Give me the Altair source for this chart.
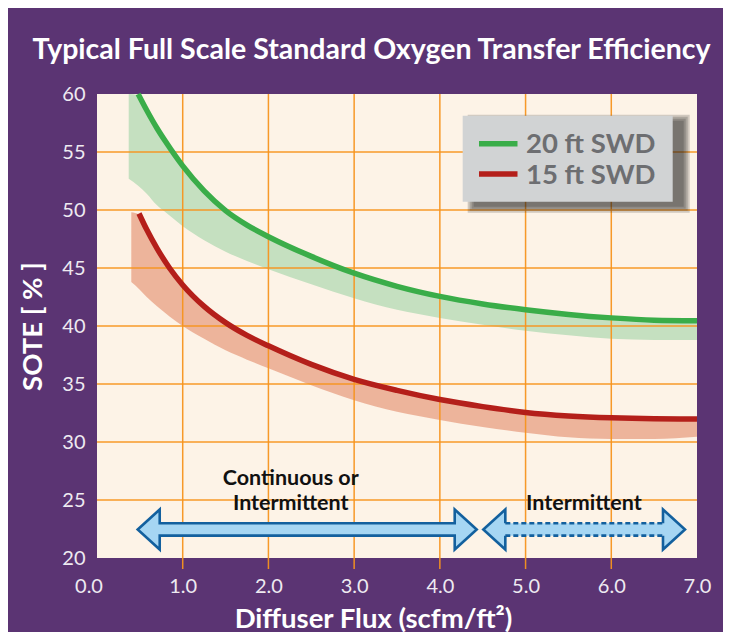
import altair as alt
import pandas as pd

# ---------------- data ----------------
TITLE = "Typical Full Scale Standard Oxygen Transfer Efficiency"
X_TITLE = "Diffuser Flux (scfm/ft²)"
Y_TITLE = "SOTE [ % ]"

series_names = ["20 ft SWD", "15 ft SWD"]
line_colors = ["#3aad49", "#b41f1a"]
band_colors = ["#c5e0c0", "#ecb097"]

x_ticks = [0, 1, 2, 3, 4, 5, 6, 7]
y_ticks = [20, 25, 30, 35, 40, 45, 50, 55, 60]

green_x = [0.48, 0.58, 0.70, 0.80, 1.00, 1.25, 1.50, 1.75, 2.00, 2.50, 3.00, 3.50, 4.00, 4.50, 5.00, 5.50, 6.00, 6.50, 7.00]
green_y = [60.0, 58.6, 57.05, 55.9, 53.8, 51.65, 49.95, 48.7, 47.7, 46.0, 44.55, 43.42, 42.55, 41.9, 41.4, 41.0, 40.7, 40.5, 40.45]

red_x = [0.49, 0.58, 0.70, 0.85, 1.00, 1.25, 1.50, 1.75, 2.00, 2.50, 3.00, 3.50, 4.00, 4.50, 5.00, 5.50, 6.00, 6.50, 7.00]
red_y = [49.7, 48.31, 46.69, 44.96, 43.54, 41.69, 40.29, 39.19, 38.29, 36.69, 35.4, 34.45, 33.66, 33.05, 32.55, 32.25, 32.08, 32.0, 31.98]

green_band_x = [0.37, 0.48, 0.58, 0.70, 0.80, 1.00, 1.25, 1.50, 1.75, 2.00, 2.50, 3.00, 3.50, 4.00, 4.50, 5.00, 5.50, 6.00, 6.50, 7.00]
green_band_hi = [60.0, 59.9, 58.45, 56.9, 55.75, 53.65, 51.5, 49.8, 48.55, 47.55, 45.85, 44.4, 43.27, 42.4, 41.75, 41.25, 40.85, 40.55, 40.35, 40.3]
green_band_lo = [52.7, 52.1, 51.4, 50.4, 49.8, 48.6, 47.4, 46.4, 45.6, 44.9, 43.6, 42.4, 41.4, 40.7, 40.1, 39.6, 39.2, 38.9, 38.8, 38.8]

red_band_x = [0.40, 0.49, 0.58, 0.70, 0.85, 1.00, 1.25, 1.50, 1.75, 2.00, 2.50, 3.00, 3.50, 4.00, 4.50, 5.00, 5.50, 6.00, 6.50, 7.00]
red_band_hi = [49.8, 49.6, 48.16, 46.54, 44.81, 43.39, 41.54, 40.14, 39.04, 38.14, 36.54, 35.25, 34.3, 33.51, 32.9, 32.4, 32.1, 31.93, 31.85, 31.83]
red_band_lo = [43.8, 43.2, 42.5, 41.7, 40.8, 40.0, 38.9, 37.9, 37.1, 36.35, 34.9, 33.6, 32.6, 31.9, 31.3, 30.8, 30.4, 30.25, 30.25, 30.45]

ann_text = ["Continuous or", "Intermittent", "Intermittent"]
ann_x = [2.26, 2.26, 5.68]
ann_y = [26.78, 24.63, 24.63]

arrow_start = [0.475, 4.507]
arrow_end = [4.430, 6.860]
arrow_level = 22.46

# ---------------- styling ----------------
PURPLE = "#5b3473"
PLOT_BG = "#fdf3e7"
ORANGE = "#f7941d"
LABEL_C = "#eeeaf1"
ARROW_FILL = "#a6d6f3"
ARROW_STROKE = "#13609e"
LEG_BG = "#d1d3d4"
LEG_TEXT = "#6d6e71"
FONT = "Lato"

W, H = 600, 464
PX = W / 7.0          # pixels per x unit
PY = H / 40.0         # pixels per y unit

xs = alt.Scale(domain=[0, 7], nice=False, zero=False)
ys = alt.Scale(domain=[20, 60], nice=False, zero=False)

x_axis = alt.Axis(values=x_ticks, format=".1f", grid=False, ticks=False, domain=False,
                  labelColor=LABEL_C, labelFont=FONT, labelFontSize=20, labelPadding=18,
                  labelFlush=False,
                  labelOffset={"condition": {"test": "datum.value === 0", "value": -8.5}, "value": 0},
                  title=X_TITLE, titleColor="white", titleFont=FONT, titleFontSize=27.5,
                  titleFontWeight="bold", titleX=276, titleY=69, titleAlign="center",
                  titleBaseline="alphabetic")
y_axis = alt.Axis(values=y_ticks, grid=False, ticks=False, domain=False,
                  labelColor=LABEL_C, labelFont=FONT, labelFontSize=20, labelPadding=12,
                  title=Y_TITLE, titleColor="white", titleFont=FONT, titleFontSize=27.5,
                  titleFontWeight="bold", titleX=-64, titleY=232, titleAlign="center",
                  titleBaseline="middle", titleAngle=270)


def X(field):
    return alt.X(field, scale=xs, axis=x_axis)


def Y(field):
    return alt.Y(field, scale=ys, axis=y_axis)


# bands
gband = pd.DataFrame({"x": green_band_x, "lo": green_band_lo, "hi": green_band_hi})
rband = pd.DataFrame({"x": red_band_x, "lo": red_band_lo, "hi": red_band_hi})

band_g = alt.Chart(gband).mark_area(interpolate="monotone", color=band_colors[0]).encode(
    x=X("x:Q"), y=Y("lo:Q"), y2="hi:Q")
band_r = alt.Chart(rband).mark_area(interpolate="monotone", color=band_colors[1], opacity=0.95).encode(
    x=X("x:Q"), y=Y("lo:Q"), y2="hi:Q")

# grid lines (vertical ones run below the plot as ticks)
vgrid = alt.Chart(pd.DataFrame({"x": x_ticks[1:-1]})).mark_rule(color=ORANGE, strokeWidth=1.5, opacity=0.95).encode(
    x=X("x:Q"), y=alt.value(0), y2=alt.value(H + 11))
hgrid = alt.Chart(pd.DataFrame({"y": y_ticks[1:-1]})).mark_rule(color=ORANGE, strokeWidth=1.5, opacity=0.95).encode(
    y=Y("y:Q"), x=alt.value(0), x2=alt.value(W))

# lines
gline = pd.DataFrame({"x": green_x, "y": green_y})
rline = pd.DataFrame({"x": red_x, "y": red_y})
line_g = alt.Chart(gline).mark_line(interpolate="monotone", color=line_colors[0], strokeWidth=5.5).encode(
    x=X("x:Q"), y=Y("y:Q"))
line_r = alt.Chart(rline).mark_line(interpolate="monotone", color=line_colors[1], strokeWidth=5.5).encode(
    x=X("x:Q"), y=Y("y:Q"))


# arrows (custom symbol paths, unit box scaled to the arrow span)
def fmt(v):
    return f"{v:.4f}"


def arrow_paths(span_px, head_len=22.0, head_half=20.0, shaft_half=6.2):
    h = span_px / 2.0
    b = 1 - head_len / h
    hh = head_half / h
    sh = shaft_half / h
    full = (f"M -1 0 L {fmt(-b)} {fmt(-hh)} L {fmt(-b)} {fmt(-sh)} L {fmt(b)} {fmt(-sh)} "
            f"L {fmt(b)} {fmt(-hh)} L 1 0 L {fmt(b)} {fmt(hh)} L {fmt(b)} {fmt(sh)} "
            f"L {fmt(-b)} {fmt(sh)} L {fmt(-b)} {fmt(hh)} Z")
    heads = (f"M {fmt(-b)} {fmt(-sh)} L {fmt(-b)} {fmt(-hh)} L -1 0 L {fmt(-b)} {fmt(hh)} L {fmt(-b)} {fmt(sh)} "
             f"M {fmt(b)} {fmt(-sh)} L {fmt(b)} {fmt(-hh)} L 1 0 L {fmt(b)} {fmt(hh)} L {fmt(b)} {fmt(sh)}")
    return full, heads


arrow_layers = []
for i, (s, e) in enumerate(zip(arrow_start, arrow_end)):
    span_px = (e - s) * PX
    full, heads = arrow_paths(span_px)
    adf = pd.DataFrame({"x": [(s + e) / 2.0], "y": [arrow_level]})
    enc = dict(x=X("x:Q"), y=Y("y:Q"))
    if i == 0:
        arrow_layers.append(alt.Chart(adf).mark_point(
            shape=full, size=span_px ** 2, filled=True, fill=ARROW_FILL, stroke=ARROW_STROKE,
            strokeWidth=2.6, strokeJoin="miter", opacity=1).encode(**enc))
    else:
        arrow_layers.append(alt.Chart(adf).mark_point(
            shape=full, size=span_px ** 2, filled=True, fill=ARROW_FILL, strokeWidth=0,
            opacity=1).encode(**enc))
        arrow_layers.append(alt.Chart(adf).mark_point(
            shape=heads, size=span_px ** 2, filled=False, stroke=ARROW_STROKE,
            strokeWidth=2.6, strokeJoin="miter", opacity=1).encode(**enc))
        base_l = s + 22.0 / PX
        base_r = e - 22.0 / PX
        off = 6.2 / PY
        ddf = pd.DataFrame({"x": [base_l, base_l], "x2": [base_r, base_r],
                            "y": [arrow_level - off, arrow_level + off]})
        arrow_layers.append(alt.Chart(ddf).mark_rule(
            color=ARROW_STROKE, strokeWidth=2.6, strokeDash=[5, 3]).encode(
            x=X("x:Q"), x2="x2:Q", y=Y("y:Q")))

# annotation texts
ann = pd.DataFrame({"t": ann_text, "x": ann_x, "y": ann_y})
ann_layer = alt.Chart(ann).mark_text(font=FONT, fontWeight="bold", fontSize=21.5, color="#111111",
                                     baseline="middle", align="center").encode(
    x=X("x:Q"), y=Y("y:Q"), text="t:N")

# legend box with soft shadow
one = pd.DataFrame({"k": [0]})
BX0, BX1, BY0, BY1 = 365.7, 575.7, 21.7, 107.7
shadow_layers = []
for grow in [6, 4, 2, 0]:
    shadow_layers.append(alt.Chart(one).mark_rect(color="#1e1e1e", opacity=0.2).encode(
        x=alt.value(BX0 + 11 - grow), x2=alt.value(BX1 + 11 + grow),
        y=alt.value(BY0 + 5 - grow), y2=alt.value(BY1 + 5 + grow)))
box = alt.Chart(one).mark_rect(color=LEG_BG).encode(
    x=alt.value(BX0), x2=alt.value(BX1), y=alt.value(BY0), y2=alt.value(BY1))

legend_layers = []
for i, (name, col) in enumerate(zip(series_names, line_colors)):
    cy = 49.7 + i * 30.4
    legend_layers.append(alt.Chart(one).mark_rule(color=col, strokeWidth=5.5).encode(
        x=alt.value(382), x2=alt.value(420.5), y=alt.value(cy)))
    legend_layers.append(alt.Chart(one).mark_text(
        text=name, font=FONT, fontWeight="bold", fontSize=27.5, color=LEG_TEXT,
        align="left", baseline="alphabetic").encode(x=alt.value(429), y=alt.value(cy + 9.6)))

# chart title as a text mark placed above the plot
title_layer = alt.Chart(one).mark_text(
    text=TITLE, font=FONT, fontWeight="bold", fontSize=28.5, color="white",
    align="center", baseline="alphabetic").encode(x=alt.value(274.5), y=alt.value(-34.7))

chart = alt.layer(
    band_g, band_r, vgrid, hgrid, line_g, line_r, *arrow_layers, ann_layer,
    *shadow_layers, box, *legend_layers, title_layer,
).properties(
    width=W, height=H,
    autosize=alt.AutoSizeParams(type="none"),
    padding={"left": 89, "top": 86, "right": 26, "bottom": 74},
    background=PURPLE,
).configure_view(fill=PLOT_BG, strokeWidth=0)

chart.save("out.html", embed_options={"renderer": "svg", "actions": False})
